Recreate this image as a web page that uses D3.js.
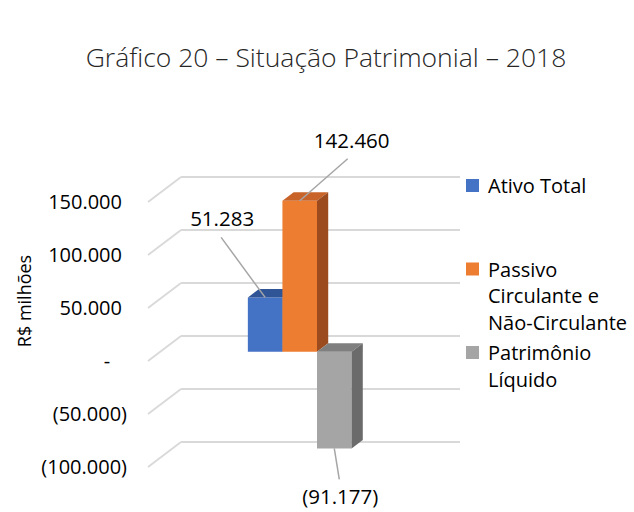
<!DOCTYPE html>
<html lang="pt">
<head>
<meta charset="UTF-8">
<title>Situação Patrimonial 2018</title>
<script src="https://cdnjs.cloudflare.com/ajax/libs/d3/7.8.5/d3.min.js"></script>
<style>
  body { margin: 0; background: #fff; }
  text { font-family: "Open Sans", sans-serif; fill: #000; }
</style>
</head>
<body>
<svg id="chart" width="634" height="512"></svg>
<script>
  // data
  const categories = ['2018'];
  const series = ['Ativo Total', 'Passivo Circulante e Não-Circulante', 'Patrimônio Líquido'];
  const values = [51283, 142460, -91177];
  const valueLabels = ['51.283', '142.460', '(91.177)'];
  const legendLines = [['Ativo Total'], ['Passivo', 'Circulante e', 'Não-Circulante'], ['Patrimônio', 'Líquido']];
  const yTicks = [-100000, -50000, 0, 50000, 100000, 150000];
  const tickLabels = ['(100.000)', '(50.000)', '-', '50.000', '100.000', '150.000'];

  const frontColors = ['#4472C4', '#ED7D31', '#A5A5A5'];
  const topColors = ['#2F5597', '#C8642A', '#7F7F7F'];
  const sideColors = ['#2F5597', '#9C4B1E', '#6B6B6B'];

  const svg = d3.select('#chart');

  // oblique 3d: depth 0 = front of floor, 1 = back wall
  const DX = 33, DY = -25;
  const y = d3.scaleLinear().domain([-100000, 150000]).range([467, 202]);
  const x0 = d3.scaleBand().domain(categories).range([148, 427]).paddingInner(0).paddingOuter(0.845);
  const x1 = d3.scaleBand().domain(series).range([0, x0.bandwidth()]);
  const P = (x, v, z) => [x + DX * z, y(v) + DY * z];
  const pt = (x, v, z) => { const p = P(x, v, z); return p[0] + ',' + p[1]; };
  const zFront = 0.37, zBack = 0.71;

  // walls
  const grid = svg.append('g');
  yTicks.forEach(t => {
    grid.append('line')
      .attr('x1', P(148, t, 1)[0]).attr('y1', P(148, t, 1)[1])
      .attr('x2', P(427, t, 1)[0]).attr('y2', P(427, t, 1)[1])
      .attr('stroke', '#D9D9D9').attr('stroke-width', 1.8);
    grid.append('line')
      .attr('x1', P(148, t, 0)[0]).attr('y1', P(148, t, 0)[1])
      .attr('x2', P(148, t, 1)[0]).attr('y2', P(148, t, 1)[1])
      .attr('stroke', '#D9D9D9').attr('stroke-width', 1.8);
  });

  // tick labels
  svg.append('g').selectAll('text')
    .data(yTicks)
    .enter()
    .append('text')
    .attr('x', (d) => d < 0 ? 127 : (d === 0 ? 107 : 122))
    .attr('y', d => y(d))
    .attr('dy', '0.35em')
    .attr('text-anchor', d => d === 0 ? 'middle' : 'end')
    .style('font-size', '20px')
    .text((d, i) => tickLabels[i]);

  svg.append('text')
    .attr('transform', 'translate(31,301) rotate(-90)')
    .attr('text-anchor', 'middle')
    .style('font-size', '18px')
    .text('R$ milhões');

  // bars
  const bars = svg.append('g');
  series.forEach((s, i) => {
    const xa = x0('2018') + x1(s), xb = xa + x1.bandwidth();
    const v = values[i];
    const hi = Math.max(v, 0), lo = Math.min(v, 0);
    bars.append('polygon')
      .attr('points', [pt(xa, lo, zFront), pt(xb, lo, zFront), pt(xb, hi, zFront), pt(xa, hi, zFront)].join(' '))
      .attr('fill', frontColors[i]);
    bars.append('polygon')
      .attr('points', [pt(xa, hi, zFront), pt(xb, hi, zFront), pt(xb, hi, zBack), pt(xa, hi, zBack)].join(' '))
      .attr('fill', topColors[i]);
    bars.append('polygon')
      .attr('points', [pt(xb, lo, zFront), pt(xb, hi, zFront), pt(xb, hi, zBack), pt(xb, lo, zBack)].join(' '))
      .attr('fill', sideColors[i]);
  });

  // data labels with leader lines (manual offsets from the bar anchor)
  const labelOffsets = [
    { lx: -43, ly: -71, ax: -44, ay: -60 },
    { lx: 52, ly: -53, ax: 48, ay: -42 },
    { lx: 6, ly: 56, ax: 5, ay: 31 }
  ];
  series.forEach((s, i) => {
    const cx = x0('2018') + x1(s) + x1.bandwidth() / 2;
    const a = P(cx, values[i], zFront);
    const o = labelOffsets[i];
    svg.append('line')
      .attr('x1', a[0]).attr('y1', a[1])
      .attr('x2', a[0] + o.ax).attr('y2', a[1] + o.ay)
      .attr('stroke', '#A6A6A6').attr('stroke-width', 1.5);
    svg.append('text')
      .attr('x', a[0] + o.lx).attr('y', a[1] + o.ly)
      .attr('text-anchor', 'middle')
      .style('font-size', '20.5px')
      .text(valueLabels[i]);
  });

  // legend
  const legend = svg.append('g').attr('transform', 'translate(466,0)');
  const ly = d3.scaleLinear().domain([0, 1]).range([193, 276.5]);
  series.forEach((s, i) => {
    legend.append('rect')
      .attr('x', 0).attr('y', ly(i) - 14)
      .attr('width', 13).attr('height', 13)
      .attr('fill', frontColors[i]);
    legendLines[i].forEach((line, j) => {
      legend.append('text')
        .attr('x', 22).attr('y', ly(i) + j * 26.7)
        .style('font-size', '20px')
        .text(line);
    });
  });

  svg.append('text')
    .attr('x', 326).attr('y', 67)
    .attr('text-anchor', 'middle')
    .style('font-size', '26.5px')
    .style('font-weight', 300)
    .style('fill', '#262626')
    .text('Gráfico 20 – Situação Patrimonial – 2018');
</script>
</body>
</html>
